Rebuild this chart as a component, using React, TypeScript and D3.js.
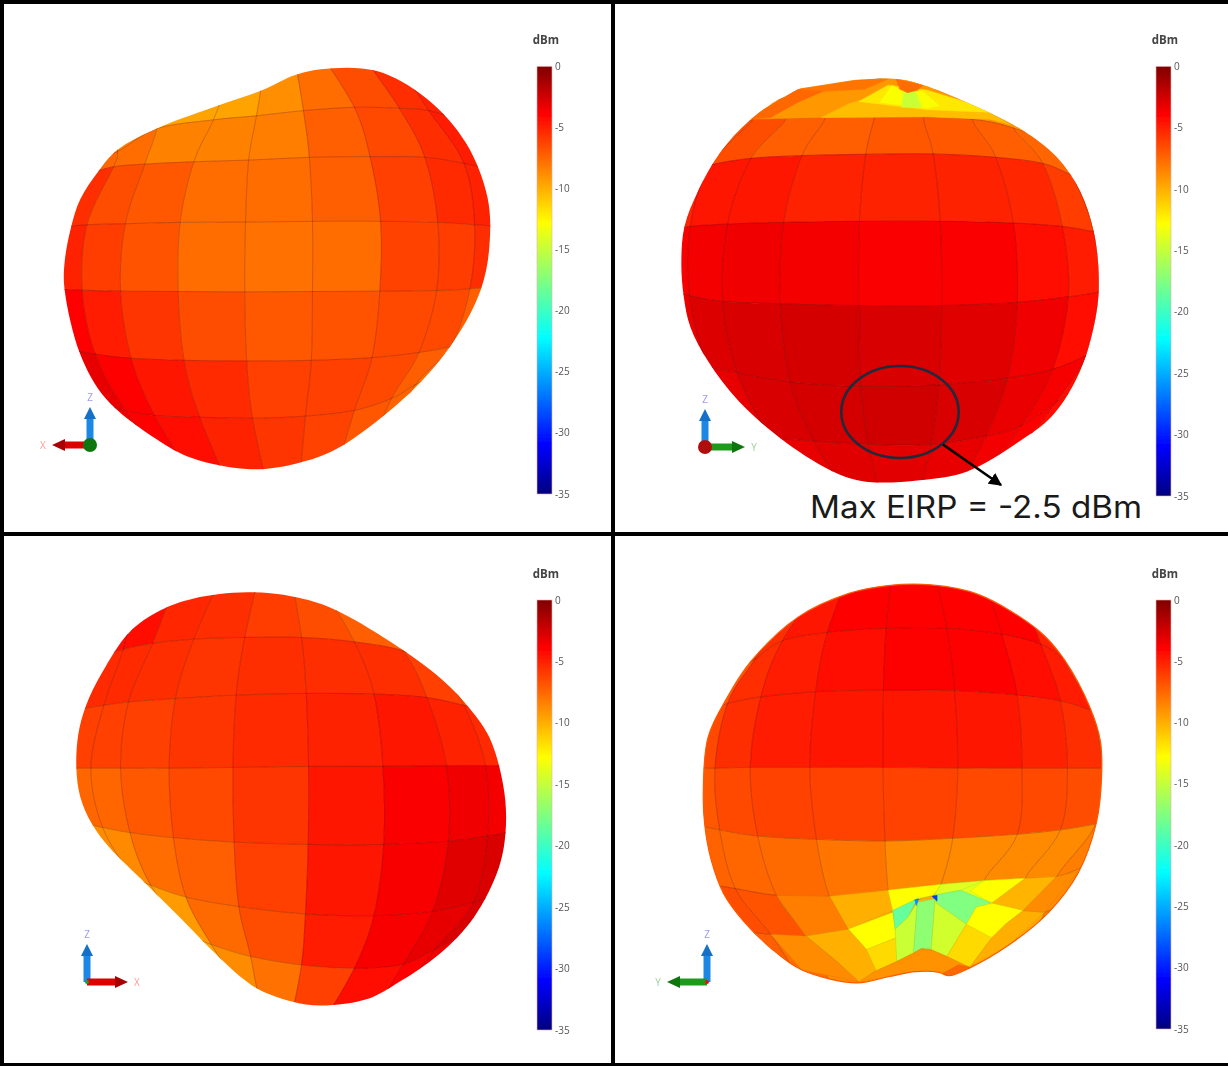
import * as d3 from "d3";

type Pt = [number, number];

// colour bar
const barTicks = [0, -5, -10, -15, -20, -25, -30, -35];
const jetStops = [0, -3.9, -12.8, -17.5, -22.2, -31, -35];
const jetColors = ["#7f0000", "#ff0000", "#ffff00", "#80ff80", "#00ffff", "#0000ff", "#00007f"];

// rows run top to bottom, columns left to right, outer ones fall outside the outline
const meshA: Pt[][] = [
  [[200, 380], [290, 360], [400, 300], [585, 230], [680, 170], [750, 150], [815, 150], [930, 170], [1030, 210], [1130, 280]],
  [[230, 470], [300, 445], [400, 378], [545, 352], [655, 340], [775, 325], [905, 315], [1020, 318], [1095, 325], [1200, 360]],
  [[225, 510], [290, 490], [370, 482], [495, 475], [635, 470], [790, 462], [945, 460], [1085, 462], [1185, 480], [1300, 510]],
  [[130, 670], [222, 660], [320, 657], [460, 653], [627, 652], [798, 650], [972, 650], [1118, 653], [1212, 660], [1320, 668]],
  [[110, 848], [210, 852], [308, 855], [455, 856], [625, 857], [798, 856], [970, 855], [1115, 853], [1200, 848], [1320, 835]],
  [[150, 1020], [243, 1040], [335, 1052], [470, 1058], [630, 1060], [795, 1058], [950, 1050], [1070, 1035], [1150, 1018], [1260, 985]],
  [[230, 1180], [320, 1205], [395, 1220], [510, 1225], [645, 1228], [780, 1222], [905, 1205], [1000, 1170], [1060, 1130], [1150, 1080]],
  [[330, 1290], [410, 1340], [490, 1400], [585, 1430], [685, 1440], [765, 1420], [860, 1380], [940, 1330], [1000, 1270], [1090, 1200]],
];
const eirpA = [
  [-7.7, -8.3, -9.6, -9.6, -8.9, -7.7, -6.6, -5.5, -5],
  [-7.5, -7.7, -8.4, -8.4, -8.3, -7.2, -6.4, -5.5, -4.85],
  [-5.5, -6.6, -7, -7.7, -7.7, -7.2, -6.1, -5.4, -5],
  [-5, -6, -6.8, -7.7, -7.85, -7.7, -6.2, -6, -5.5],
  [-3.9, -4.85, -5.7, -6.6, -7, -6.8, -6.5, -6.5, -7.2],
  [-3.2, -3.9, -4.7, -5.4, -6.1, -6.1, -6.5, -7.2, -7.7],
  [-3.5, -3.9, -4.4, -5, -5.8, -6.2, -6.9, -7.4, -8],
];
const outlineA: Pt[] = [
  [750, 222], [820, 203], [960, 208], [1090, 290], [1190, 420], [1245, 580], [1250, 720], [1228, 850], [1160, 1000],
  [1050, 1150], [860, 1318], [760, 1360], [640, 1378], [490, 1345], [400, 1290], [270, 1170], [205, 1040], [165, 850],
  [165, 770], [182, 665], [205, 585], [250, 505], [300, 440], [400, 378], [570, 305], [680, 260],
];

const meshB: Pt[][] = [
  [[200, 420], [270, 380], [400, 300], [540, 260], [680, 230], [800, 230], [930, 270], [1050, 330], [1150, 430], [1230, 520]],
  [[290, 400], [355, 350], [440, 347], [540, 345], [665, 343], [790, 343], [915, 350], [1020, 375], [1110, 420], [1180, 490]],
  [[200, 510], [245, 485], [350, 465], [480, 457], [643, 453], [815, 452], [975, 462], [1095, 480], [1170, 515], [1260, 560]],
  [[130, 680], [195, 665], [290, 658], [433, 653], [627, 650], [833, 650], [1020, 655], [1145, 665], [1225, 680], [1300, 690]],
  [[120, 850], [193, 868], [278, 885], [425, 892], [625, 897], [837, 897], [1030, 888], [1160, 872], [1238, 858], [1300, 845]],
  [[170, 1050], [240, 1075], [315, 1095], [450, 1122], [630, 1135], [830, 1130], [1005, 1110], [1120, 1085], [1205, 1045], [1280, 1000]],
  [[270, 1230], [340, 1265], [400, 1285], [510, 1295], [650, 1305], [810, 1305], [950, 1280], [1040, 1250], [1130, 1180], [1210, 1120]],
  [[370, 1350], [440, 1400], [500, 1420], [590, 1440], [680, 1450], [780, 1445], [880, 1430], [950, 1380], [1040, 1310], [1130, 1240]],
];
const eirpB = [
  [-8.8, -8.8, -8.8, -8.8, -8.8, -8.8, -8.8, -8.8, -8.8],
  [-6.6, -6.6, -7.2, -7.2, -6.9, -7, -7.2, -7.45, -7.7],
  [-5, -4.6, -4.7, -5, -5.1, -5, -5.3, -6, -6.2],
  [-3.7, -3.55, -3.45, -3.6, -3.75, -3.75, -4.2, -4.85, -5.4],
  [-3.3, -2.85, -2.7, -2.6, -2.7, -2.95, -3.45, -4.2, -5],
  [-3.2, -3.2, -2.7, -2.6, -2.47, -2.7, -3.3, -3.65, -4.45],
  [-3.5, -3.45, -3.2, -2.95, -3.05, -3.2, -3.55, -3.9, -4.4],
];
const outlineB: Pt[] = [
  [470, 262], [560, 240], [720, 232], [790, 250], [900, 300], [1040, 380], [1130, 460], [1190, 560], [1225, 680],
  [1238, 820], [1230, 930], [1190, 1090], [1120, 1220], [1030, 1300], [900, 1385], [780, 1410], [650, 1415], [570, 1390],
  [440, 1300], [320, 1180], [240, 1060], [195, 960], [178, 870], [172, 770], [180, 665], [215, 560], [270, 450], [350, 350],
];
// patches around the null at the top of view B
const capB: Pt[][] = [
  [[340, 350], [470, 262], [620, 235], [740, 232], [800, 250], [1050, 385], [960, 350], [800, 343], [540, 345]],
  [[340, 350], [470, 262], [560, 255], [470, 300], [400, 345]],
  [[470, 262], [620, 235], [700, 232], [640, 262], [540, 268]],
  [[530, 345], [600, 305], [630, 295], [790, 320], [960, 330], [1010, 365], [960, 350], [800, 343]],
  [[625, 298], [700, 250], [800, 265], [900, 300], [965, 330], [800, 322]],
  [[680, 300], [710, 250], [730, 265], [790, 270], [830, 310], [800, 318]],
  [[735, 315], [740, 268], [770, 268], [785, 315]],
  [[720, 232], [790, 250], [775, 265], [750, 272], [730, 262]],
];
const capEirpB = [-9.2, -7.5, -8, -10.5, -12, -13, -14.8, -7.7];

const meshC: Pt[][] = [
  [[270, 260], [340, 210], [440, 170], [560, 140], [660, 130], [745, 135], [830, 170], [930, 230], [1040, 300], [1130, 390]],
  [[260, 360], [315, 340], [390, 322], [495, 310], [625, 305], [770, 305], [905, 318], [1030, 345], [1120, 400], [1200, 470]],
  [[180, 520], [265, 505], [328, 495], [448, 485], [603, 475], [782, 470], [955, 472], [1090, 482], [1185, 505], [1300, 530]],
  [[150, 690], [232, 690], [308, 690], [432, 690], [595, 688], [788, 685], [978, 685], [1140, 683], [1240, 683], [1330, 685]],
  [[180, 845], [262, 865], [332, 880], [443, 895], [598, 908], [787, 915], [980, 915], [1145, 905], [1245, 890], [1340, 870]],
  [[290, 980], [340, 1010], [385, 1035], [475, 1070], [610, 1098], [780, 1120], [955, 1125], [1105, 1112], [1210, 1085], [1300, 1050]],
  [[380, 1100], [440, 1150], [480, 1180], [540, 1210], [640, 1245], [770, 1270], [905, 1280], [1030, 1268], [1110, 1225], [1200, 1170]],
  [[480, 1210], [540, 1270], [590, 1320], [620, 1350], [665, 1400], [745, 1420], [830, 1430], [950, 1420], [1020, 1360], [1120, 1290]],
];
const eirpC = [
  [-4.3, -4.3, -5.3, -5.5, -6, -6.6, -7.2, -7.5, -7.7],
  [-5.4, -5.4, -5.5, -5.8, -5.5, -5.5, -5.5, -6.1, -6.6],
  [-6.1, -6.1, -6.1, -5.8, -5.4, -5, -4.6, -5, -5.4],
  [-7.45, -7.45, -7, -6.4, -5.7, -4.6, -3.75, -3.45, -3.55],
  [-8.8, -8.7, -7.7, -7.2, -6.1, -4.6, -3.7, -2.95, -2.8],
  [-9.1, -9.1, -9.3, -7.6, -6.6, -4.85, -3.7, -3.2, -2.7],
  [-9.4, -9.4, -9.4, -8.8, -7.85, -6.1, -4.2, -3.9, -3.45],
];
const outlineC: Pt[] = [
  [495, 190], [630, 172], [750, 185], [850, 220], [1000, 320], [1130, 430], [1200, 515], [1250, 600], [1285, 740],
  [1292, 860], [1275, 980], [1210, 1130], [1120, 1240], [1020, 1320], [940, 1370], [820, 1390], [745, 1378], [665, 1345],
  [620, 1310], [540, 1225], [455, 1125], [372, 1030], [280, 925], [235, 855], [205, 775], [195, 690], [200, 590], [220, 505],
  [260, 410], [330, 290], [410, 225],
];

const meshD: Pt[][] = [
  [[370, 250], [470, 190], [530, 150], [600, 120], [710, 110], [815, 110], [945, 130], [1050, 200], [1150, 280], [1230, 380]],
  [[300, 420], [360, 370], [430, 315], [545, 290], [695, 278], [850, 278], [990, 295], [1090, 325], [1150, 370], [1220, 440]],
  [[220, 530], [290, 500], [375, 480], [515, 465], [688, 460], [870, 462], [1030, 475], [1140, 492], [1220, 520], [1300, 550]],
  [[170, 690], [258, 690], [348, 688], [500, 688], [687, 688], [878, 690], [1042, 690], [1158, 690], [1245, 690], [1320, 690]],
  [[180, 850], [270, 872], [367, 890], [517, 900], [692, 905], [865, 897], [1030, 885], [1140, 872], [1230, 855], [1320, 835]],
  [[230, 1030], [310, 1045], [415, 1065], [550, 1068], [700, 1050], [835, 1033], [945, 1022], [1050, 1015], [1130, 1010], [1220, 970]],
  [[320, 1170], [400, 1180], [490, 1185], [598, 1165], [712, 1115], [818, 1065], [965, 1088], [1045, 1110], [1100, 1115], [1190, 1060]],
  [[430, 1290], [480, 1320], [560, 1340], [625, 1340], [720, 1320], [810, 1320], [910, 1300], [1010, 1260], [1060, 1200], [1130, 1140]],
];
const eirpD = [
  [-5.5, -5.5, -4.7, -4.05, -3.9, -3.9, -4.05, -5, -5.5],
  [-6.9, -5.5, -4.85, -4.3, -3.85, -3.9, -4.2, -4.85, -5.8],
  [-6.4, -5.5, -4.85, -4.7, -4.6, -4.7, -5.1, -5.5, -6.5],
  [-7, -6.5, -6.2, -6.2, -6.2, -6.4, -6.5, -6.6, -7.2],
  [-7.4, -7.45, -7.6, -8, -8.7, -8.7, -8.7, -8.7, -8.3],
  [-6.6, -6.8, -8.3, -9.8, -12.6, -14, -12.6, -9.9, -8.8],
  [-7.2, -7.7, -8.8, -9.8, -10, -10, -10, -9.8, -8.5],
];
const outlineD: Pt[] = [
  [600, 175], [700, 152], [810, 150], [930, 178], [1085, 285], [1150, 370], [1215, 510], [1242, 610], [1245, 720],
  [1232, 850], [1185, 1000], [1110, 1115], [1010, 1210], [910, 1278], [855, 1302], [830, 1292], [770, 1290], [700, 1305],
  [620, 1323], [480, 1285], [400, 1220], [330, 1140], [280, 1060], [248, 960], [232, 860], [228, 770], [240, 600], [290, 480],
  [350, 375], [470, 245],
];
// patches around the null at the bottom of view D
const capD: Pt[][] = [
  [[550, 1068], [700, 1050], [712, 1110], [598, 1165], [565, 1120]],
  [[415, 1065], [550, 1068], [598, 1165], [490, 1185]],
  [[598, 1165], [712, 1115], [718, 1165], [720, 1190], [645, 1225]],
  [[490, 1185], [598, 1165], [645, 1225], [670, 1285], [625, 1320], [570, 1260]],
  [[645, 1225], [720, 1190], [722, 1260], [670, 1287]],
  [[400, 1180], [490, 1185], [570, 1262], [625, 1320], [480, 1285]],
  [[700, 1050], [835, 1033], [815, 1065], [775, 1075], [712, 1110]],
  [[835, 1033], [945, 1022], [885, 1050], [818, 1065]],
  [[910, 1052], [945, 1022], [1050, 1015], [965, 1088]],
  [[1050, 1015], [1130, 1010], [1045, 1110], [965, 1088]],
  [[818, 1065], [885, 1050], [965, 1088], [925, 1100], [900, 1150], [825, 1090]],
  [[712, 1110], [775, 1075], [750, 1130], [718, 1165]],
  [[718, 1165], [750, 1130], [775, 1085], [765, 1235], [722, 1260]],
  [[775, 1085], [820, 1075], [810, 1225], [785, 1222], [765, 1235]],
  [[820, 1080], [825, 1090], [900, 1150], [850, 1245], [810, 1225]],
  [[900, 1150], [965, 1190], [910, 1275], [880, 1270], [850, 1245]],
  [[925, 1100], [965, 1088], [1045, 1110], [1000, 1150], [965, 1190], [900, 1150]],
  [[965, 1190], [1000, 1150], [1045, 1110], [1100, 1115], [1010, 1210], [910, 1275]],
  [[625, 1322], [670, 1287], [722, 1260], [765, 1235], [785, 1222], [810, 1225], [850, 1245], [910, 1278], [855, 1300], [770, 1290], [700, 1305]],
  [[880, 1270], [910, 1278], [855, 1302], [840, 1295]],
  [[1130, 1010], [1185, 995], [1100, 1115], [1045, 1110]],
  [[768, 1078], [778, 1075], [772, 1095]],
  [[812, 1068], [825, 1065], [825, 1082]],
];
const capEirpD = [
  -10, -8.3, -12.8, -10, -11.5, -8.8, -12.8, -14, -12.8, -10.2, -17.5, -18.5, -14.8, -17, -14.5, -11.5, -12.8, -10, -9, -7.5, -8.8, -26,
  -29,
];

const panels = [
  { id: "a", x0: 0, y0: 0, h: 534, barX: 537, barTop: 66.4, barBottom: 494, mesh: meshA, eirp: eirpA, outline: outlineA, cap: [] as Pt[][], capEirp: [] as number[], rim: null as number | null },
  { id: "b", x0: 614, y0: 0, h: 534, barX: 1156, barTop: 66.4, barBottom: 496, mesh: meshB, eirp: eirpB, outline: outlineB, cap: capB, capEirp: capEirpB, rim: null as number | null },
  { id: "c", x0: 0, y0: 534, h: 532, barX: 537, barTop: 600, barBottom: 1030, mesh: meshC, eirp: eirpC, outline: outlineC, cap: [] as Pt[][], capEirp: [] as number[], rim: null as number | null },
  { id: "d", x0: 614, y0: 534, h: 532, barX: 1156, barTop: 600, barBottom: 1029, mesh: meshD, eirp: eirpD, outline: outlineD, cap: capD, capEirp: capEirpD, rim: -7 },
];

// axis triads: origin, then the horizontal axis
const triads = [
  { ox: 90, oy: 445, tipX: 52, label: "X", labelX: 43, color: "#dd0000", dark: "#a80000", dot: "#117711", dotR: 7 },
  { ox: 705, oy: 447, tipX: 745, label: "Y", labelX: 754, color: "#1f9a1f", dark: "#117711", dot: "#b01010", dotR: 7 },
  { ox: 87, oy: 982, tipX: 128, label: "X", labelX: 137, color: "#dd0000", dark: "#a80000", dot: "#2a9a2a", dotR: 2 },
  { ox: 707, oy: 982, tipX: 667, label: "Y", labelX: 658, color: "#1f9a1f", dark: "#117711", dot: "#ee1111", dotR: 2 },
];

const jet = d3.scaleLinear<string>().domain(jetStops).range(jetColors);
const poly = d3.line().curve(d3.curveLinearClosed);
const outlinePath = d3.line().curve(d3.curveCatmullRomClosed.alpha(0.5));
const gridLine = d3.line().curve(d3.curveCardinal.tension(0));

// one cubic span along a mesh line, matching curveCardinal with tension 0
function span(path: d3.Path, line: Pt[], from: number, to: number) {
  const step = to - from;
  const a = line[from];
  const b = line[to];
  const before = line[from - step] ?? a;
  const after = line[to + step] ?? b;
  path.bezierCurveTo(
    a[0] + (b[0] - before[0]) / 6,
    a[1] + (b[1] - before[1]) / 6,
    b[0] - (after[0] - a[0]) / 6,
    b[1] - (after[1] - a[1]) / 6,
    b[0],
    b[1]
  );
}

function Lobe({ p }: { p: (typeof panels)[number] }) {
  const x = d3.scaleLinear().domain([0, 1568]).range([p.x0, p.x0 + 614]);
  const y = d3.scaleLinear().domain([0, 1568]).range([p.y0, p.y0 + p.h]);
  const place = (pts: Pt[]) => pts.map(([a, b]) => [x(a), y(b)] as Pt);
  const rows = p.mesh.map(place);
  const cols = rows[0].map((_, c) => rows.map((row) => row[c]));
  const patches = p.eirp.flatMap((vals, r) =>
    vals.map((v, c) => {
      const path = d3.path();
      path.moveTo(rows[r][c][0], rows[r][c][1]);
      span(path, rows[r], c, c + 1);
      span(path, cols[c + 1], r, r + 1);
      span(path, rows[r + 1], c + 1, c);
      span(path, cols[c], r + 1, r);
      path.closePath();
      return { v, d: path.toString() };
    })
  );
  const outline = outlinePath(place(p.outline)) ?? "";
  return (
    <g filter="url(#soft)">
      <clipPath id={`clip-${p.id}`}>
        <path d={outline} />
      </clipPath>
      <g clipPath={`url(#clip-${p.id})`}>
        {patches.map((d, i) => (
          <path key={i} d={d.d} fill={jet(d.v)} stroke={jet(d.v)} strokeWidth={0.6} />
        ))}
        {[...rows, ...cols].map((line, i) => (
          <path key={i} d={gridLine(line) ?? ""} fill="none" stroke="#300000" strokeOpacity={0.24} strokeWidth={1} />
        ))}
        {p.cap.map((pts, i) => (
          <path
            key={i}
            d={poly(place(pts)) ?? ""}
            fill={jet(p.capEirp[i])}
            stroke={p.id === "d" ? d3.color(jet(p.capEirp[i]))?.darker(0.35).toString() : jet(p.capEirp[i])}
            strokeWidth={0.5}
          />
        ))}
      </g>
      {p.rim !== null && <path d={outline} fill="none" stroke={jet(p.rim)} strokeWidth={1.2} />}
    </g>
  );
}

function ColorBar({ p }: { p: (typeof panels)[number] }) {
  const dbm = d3.scaleLinear().domain([0, -35]).range([p.barTop, p.barBottom]);
  return (
    <g filter="url(#softText)" fontFamily="'Open Sans', sans-serif">
      <text x={p.barX + 9} y={p.y0 + 44} textAnchor="middle" fontSize={11.5} fontWeight={700} fill="#444">
        dBm
      </text>
      <rect
        x={p.barX}
        y={p.barTop}
        width={15}
        height={p.barBottom - p.barTop}
        fill="url(#jetBar)"
        stroke="#e8b0b0"
        strokeWidth={0.6}
      />
      {barTicks.map((t) => (
        <text key={t} x={p.barX + 18} y={dbm(t)} dy="0.35em" fontSize={10} fill="#555">
          {t}
        </text>
      ))}
    </g>
  );
}

function Triad({ t }: { t: (typeof triads)[number] }) {
  const dir = t.tipX > t.ox ? 1 : -1;
  const zTip = t.oy - 38;
  return (
    <g filter="url(#softText)">
      <rect x={t.ox - 3.5} y={zTip + 8} width={7} height={t.oy - zTip - 8} fill="#1e88e5" />
      <path
        d={poly([[t.ox, zTip], [t.ox + 6, zTip + 12], [t.ox - 6, zTip + 12]]) ?? ""}
        fill="#1570c8"
      />
      <rect
        x={Math.min(t.ox, t.tipX - dir * 10)}
        y={t.oy - 3.5}
        width={Math.abs(t.tipX - dir * 10 - t.ox)}
        height={7}
        fill={t.color}
      />
      <path
        d={poly([[t.tipX, t.oy], [t.tipX - dir * 13, t.oy - 6], [t.tipX - dir * 13, t.oy + 6]]) ?? ""}
        fill={t.dark}
      />
      <circle cx={t.ox} cy={t.oy} r={t.dotR} fill={t.dot} />
      <text x={t.ox} y={t.oy - 47} textAnchor="middle" dominantBaseline="middle" fontSize={10} fontFamily="'Open Sans', sans-serif" fill="#9a9aff">
        Z
      </text>
      <text x={t.labelX} y={t.oy + 1} textAnchor="middle" dominantBaseline="middle" fontSize={10} fontFamily="'Open Sans', sans-serif" fill={t.label === "X" ? "#ff9a9a" : "#9ad09a"}>
        {t.label}
      </text>
    </g>
  );
}

export default function App() {
  const gradientScale = d3.scaleLinear().domain([0, -35]).range([0, 100]);
  return (
    <svg
      width={1228}
      height={1066}
      viewBox="0 0 1228 1066"
      style={{ position: "absolute", left: 0, top: 0, display: "block", background: "#fff" }}
    >
      <defs>
        <filter id="soft" x="-5%" y="-5%" width="110%" height="110%">
          <feGaussianBlur stdDeviation={0.7} />
        </filter>
        <filter id="softText" x="-20%" y="-5%" width="140%" height="110%">
          <feGaussianBlur stdDeviation={0.45} />
        </filter>
        <linearGradient id="jetBar" x1="0" y1="0" x2="0" y2="1">
          {jetStops.map((s, i) => (
            <stop key={s} offset={`${gradientScale(s)}%`} stopColor={jetColors[i]} />
          ))}
        </linearGradient>
        <marker id="head" viewBox="0 0 10 10" refX={9} refY={5} markerWidth={5} markerHeight={5} orient="auto">
          <path d="M0,0L10,5L0,10z" fill="#000" />
        </marker>
      </defs>

      {panels.map((p) => (
        <g key={p.id}>
          <Lobe p={p} />
          <ColorBar p={p} />
        </g>
      ))}
      {triads.map((t, i) => (
        <Triad key={i} t={t} />
      ))}

      <ellipse cx={900} cy={412} rx={58.7} ry={46} fill="none" stroke="#1f2a3c" strokeWidth={2.6} />
      <line x1={943} y1={444.5} x2={1001} y2={485} stroke="#000" strokeWidth={2.6} markerEnd="url(#head)" />
      <text
        x={810}
        y={518}
        fontFamily="Inter, 'Noto Sans', sans-serif"
        fontSize={31}
        fill="#1a1a1a"
        textLength={332}
        lengthAdjust="spacingAndGlyphs"
      >
        Max EIRP = -2.5 dBm
      </text>

      {/* panel frame */}
      <rect x={0} y={0} width={1228} height={4} fill="#000" />
      <rect x={0} y={0} width={4} height={1066} fill="#000" />
      <rect x={611} y={0} width={4} height={1066} fill="#000" />
      <rect x={0} y={532} width={1228} height={4} fill="#000" />
      <rect x={0} y={1063} width={1228} height={3} fill="#000" />
    </svg>
  );
}
